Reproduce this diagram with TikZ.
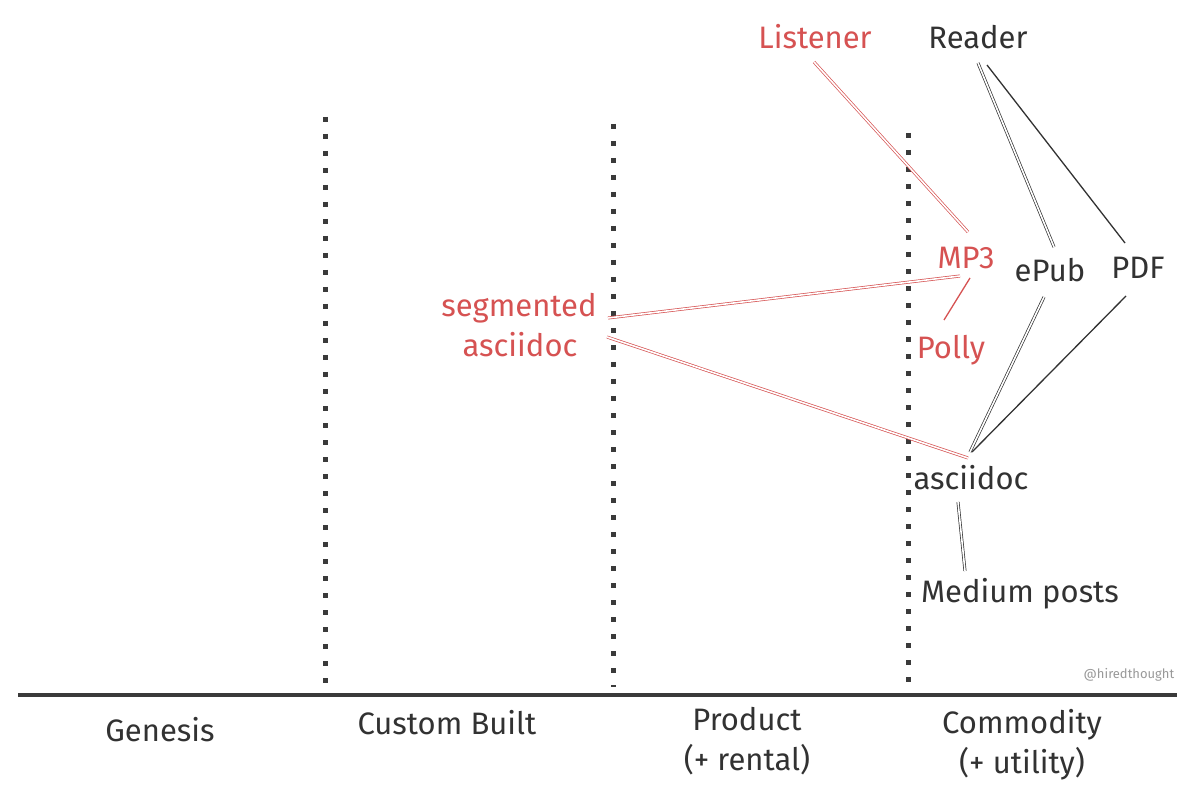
\documentclass[tikz,border=0pt]{standalone}
\usepackage{fontspec}
\setmainfont{Fira Sans}
\definecolor{inkred}{RGB}{214,82,82}
\definecolor{ink}{RGB}{50,50,50}
\definecolor{axis}{RGB}{58,58,58}
\tikzset{
  lbl/.style={inner sep=0pt, font=\fontsize{31}{34}\selectfont, text=ink},
  rlbl/.style={lbl, text=inkred},
  blbl/.style={lbl, align=center, font=\fontsize{31}{40}\selectfont},
  dline/.style={draw=#1, line width=0.7pt, double=white, double distance=1.6pt},
  sline/.style={draw=#1, line width=1.3pt},
  dotcol/.style={draw=axis, line width=5pt, dash pattern=on 5pt off 12pt},
}
\begin{document}
\begin{tikzpicture}[x=1pt,y=-1pt]
\useasboundingbox (0,0) rectangle (1200,802);
\fill[white] (0,0) rectangle (1200,802);

% evolution columns
\draw[dotcol] (325,117) -- (325,692);
\draw[dotcol] (613,124) -- (613,687);
\draw[dotcol] (908,133) -- (908,695);
\draw[axis, line width=4.5pt] (18,695) -- (1177,695);

% stage labels
\node[lbl] (gen) at (160,730) {Genesis};
\node[lbl] (cb) at (447,723) {Custom Built};
\node[blbl] (prod) at (747,741) {Product\\(+ rental)};
\node[blbl] (comm) at (1022,745) {Commodity\\(+ utility)};
\node[inner sep=0pt, text=black!40, font=\fontsize{13}{15}\selectfont] (wm) at (1129,675) {@hiredthought};

% components
\node[rlbl] (lis) at (815,37) {Listener};
\node[lbl] (rd) at (978,37) {Reader};
\node[rlbl] (mp3) at (966,258) {MP3};
\node[lbl] (epub) at (1050,270) {ePub};
\node[lbl] (pdf) at (1138,268) {PDF};
\node[rlbl] (seg) at (519,308) {segmented};
\node[rlbl] (sasc) at (520,345) {asciidoc};
\node[rlbl] (pol) at (951,350) {Polly};
\node[lbl] (asc) at (971,478) {asciidoc};
\node[lbl] (med) at (1020,594) {Medium posts};

% links
\draw[dline=inkred] ([shift={(-1,25)}]lis.center) -- ([shift={(2,-26)}]mp3.center);
\draw[dline=ink] ([shift={(0,26)}]rd.center) -- ([shift={(4,-23)}]epub.center);
\draw[sline=ink] ([shift={(9,28)}]rd.center) -- ([shift={(-13,-25)}]pdf.center);
\draw[dline=inkred] ([shift={(89,10)}]seg.center) -- ([shift={(-6,18)}]mp3.center);
\draw[dline=inkred] ([shift={(87,-8)}]sasc.center) -- ([shift={(-3,-20)}]asc.center);
\draw[sline=inkred] ([shift={(4,20)}]mp3.center) -- ([shift={(-7,-30)}]pol.center);
\draw[dline=ink] ([shift={(-6,27)}]epub.center) -- ([shift={(-1,-26)}]asc.center);
\draw[sline=ink] ([shift={(-12,28)}]pdf.center) -- ([shift={(1,-26)}]asc.center);
\draw[dline=ink] ([shift={(-13,24)}]asc.center) -- ([shift={(-55,-23)}]med.center);
\end{tikzpicture}
\end{document}
